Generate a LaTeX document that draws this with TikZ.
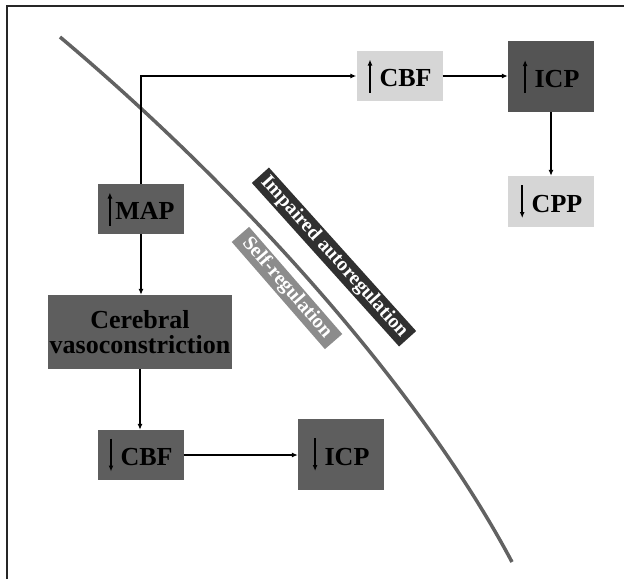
\documentclass[tikz,border=0pt]{standalone}
\usepackage{fontspec}
\setmainfont{Liberation Serif}
\usetikzlibrary{arrows.meta}
\definecolor{boxdark}{HTML}{5E5E5E}
\definecolor{boxdarker}{HTML}{545454}
\definecolor{boxlight}{HTML}{D6D6D6}
\definecolor{curvegray}{HTML}{626262}
\definecolor{impairedgray}{HTML}{303030}
\definecolor{selfgray}{HTML}{8C8C8C}
\newcommand{\uparr}{\tikz[baseline=0pt]\draw[line width=1.5pt,-{Latex[length=6pt,width=5pt]}] (0pt,-6pt) -- (0pt,27pt);}
\newcommand{\downarr}{\tikz[baseline=0pt]\draw[line width=1.5pt,-{Latex[length=6pt,width=5pt]}] (0pt,27pt) -- (0pt,-6pt);}
\begin{document}
\begin{tikzpicture}[
                x=1pt, y=-1pt,
                valbox/.style={inner sep=0pt, minimum width=86pt, minimum height=50pt,
                    align=center, font=\fontsize{26}{25}\selectfont\bfseries},
                darkbox/.style={valbox, fill=boxdark},
                lightbox/.style={valbox, fill=boxlight},
                band/.style={inner sep=0pt, minimum height=23pt, text=white,
                    font=\fontsize{20}{20}\selectfont\bfseries},
                conn/.style={line width=1.1pt, -{Latex[length=6pt,width=5pt]}}
            ]
            \useasboundingbox (0,0) rectangle (624,579);
            \draw[line width=1.2pt, black!85] (7,579) -- (7,6) -- (624,6);
            \draw[curvegray, line width=3.5pt] (60,37) .. controls (236,185) and (418,385) .. (512,562);
            \node[lightbox] (upCBF) at (399.5,76) {\uparr\hspace{7pt}CBF};
            \node[darkbox, fill=boxdarker, minimum height=71pt] (upICP) at (551,76.5) {\uparr\hspace{7pt}ICP};
            \node[lightbox, minimum height=51pt] (dnCPP) at (551,201.5) {\downarr\hspace{7pt}CPP};
            \node[darkbox] (upMAP) at (141,209) {\uparr\hspace{3pt}MAP};
            \node[darkbox, minimum width=184pt, minimum height=74pt] (vaso) at (140,332) {Cerebral\\vasoconstriction};
            \node[darkbox] (dnCBF) at (140.5,455) {\downarr\hspace{7pt}CBF};
            \node[darkbox, minimum height=71pt] (dnICP) at (341,454.5) {\downarr\hspace{7pt}ICP};
            \node[band, fill=impairedgray, rotate=-48, minimum width=220pt] (impaired) at (334,257) {Impaired autoregulation};
            \node[band, fill=selfgray, rotate=-49, minimum width=142pt] (selfreg) at (287,288) {Self-regulation};
            \draw[conn] (upMAP.north) |- (upCBF.west);
            \draw[conn] (upCBF.east) -- (upCBF.east -| upICP.west);
            \draw[conn] (upICP.south) -- (dnCPP.north);
            \draw[conn] (upMAP.south) -- (upMAP.south |- vaso.north);
            \draw[conn] (vaso.south) -- (vaso.south |- dnCBF.north);
            \draw[conn] (dnCBF.east) -- (dnCBF.east -| dnICP.west);
        \end{tikzpicture}
\end{document}
